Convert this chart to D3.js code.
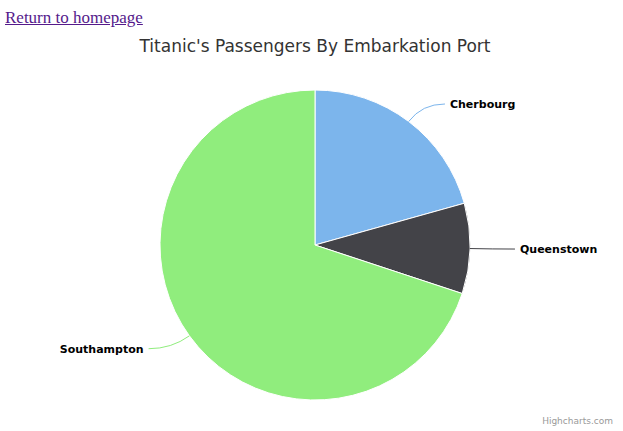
<!DOCTYPE html>
<html><head><meta charset="utf-8">
<script src="https://cdn.jsdelivr.net/npm/d3@7/dist/d3.min.js"></script>
<style>
body{margin:0;font-family:"Times New Roman","Liberation Serif",serif;}
a{position:absolute;left:5px;top:8px;font-size:17px;color:#551a8b;}
</style></head><body>
<a href="#">Return to homepage</a>
<svg id="c" width="623" height="431" style="position:absolute;left:0;top:0"></svg>
<script>
const categories=["Cherbourg","Queenstown","Southampton"];
const values=[270,123,914];
const colors=["#7cb5ec","#434348","#90ed7d"];
const svg=d3.select("#c");
svg.append("text").attr("x",315).attr("y",52).attr("text-anchor","middle")
 .attr("font-family","DejaVu Sans, sans-serif").attr("font-size",17).attr("fill","#333")
 .text("Titanic's Passengers By Embarkation Port");
const cx=315,cy=245,r=155;
const arcs=d3.pie().sort(null)(values);
const g=svg.append("g").attr("transform",`translate(${cx},${cy})`);
const arc=d3.arc().innerRadius(0).outerRadius(r);
g.selectAll("path.s").data(arcs).join("path").attr("class","s").attr("d",arc)
 .attr("fill",(d,i)=>colors[i]).attr("stroke","#fff").attr("stroke-width",1);
arcs.forEach((d,i)=>{
  const a=(d.startAngle+d.endAngle)/2;
  const px=Math.sin(a)*r, py=-Math.cos(a)*r;
  const ox=Math.sin(a)*(r+22), oy=-Math.cos(a)*(r+22);
  const right=Math.sin(a)>=0;
  const lx=ox+(right?28:-28);
  g.append("path").attr("d",`M${px},${py}Q${ox},${oy} ${lx-(right?5:-5)},${oy}`)
   .attr("fill","none").attr("stroke",colors[i]).attr("stroke-width",1);
  g.append("text").attr("x",lx).attr("y",oy+4).attr("text-anchor",right?"start":"end")
   .attr("font-family","DejaVu Sans, sans-serif").attr("font-size",11).attr("font-weight","bold")
   .attr("fill","#000").text(categories[i]);
});
svg.append("text").attr("x",613).attr("y",424).attr("text-anchor","end")
 .attr("font-family","DejaVu Sans, sans-serif").attr("font-size",9).attr("fill","#999").text("Highcharts.com");
</script></body></html>
